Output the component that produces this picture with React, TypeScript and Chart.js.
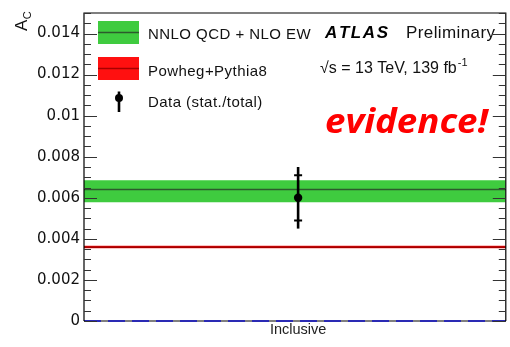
import React, { useEffect, useRef } from 'react';
import { Chart, registerables } from 'chart.js';

Chart.register(...registerables);

// ---- data ----
const categories = ['Inclusive'];
const categoryPos = [0.5];
const nnloCentral = [0.0064];
const nnloUpper = [0.00685];
const nnloLower = [0.00578];
const powhegCentral = [0.0036];
const powhegUpper = [0.00366];
const powhegLower = [0.00354];
const dataValue = [0.006];
const dataStatErr = [0.0011];
const dataTotalErr = [0.0015];
const zeroLine = [0];
const yTickValues = [0, 0.002, 0.004, 0.006, 0.008, 0.01, 0.012, 0.014];
const yTickLabels = ['0', '0.002', '0.004', '0.006', '0.008', '0.01', '0.012', '0.014'];
const yMinorStep = 0.0005;
const legendLabels = ['NNLO QCD + NLO EW', 'Powheg+Pythia8', 'Data (stat./total)'];

const X_MIN = 0;
const X_MAX = 0.985;
const Y_MIN = 0;
const Y_MAX = 0.015;

const GREEN = '#3fcb3f';
const GREEN_LINE = '#2c5a2c';
const RED = '#ff1010';
const RED_LINE = '#a80000';
const BLUE = '#2a2ab4';
const SANS = '"Liberation Sans", Arial, sans-serif';

const span = (v: number) => [
  { x: X_MIN, y: v },
  { x: X_MAX, y: v },
];

function spacedText(ctx: CanvasRenderingContext2D, text: string, x: number, y: number, spacing: number) {
  let cx = x;
  for (const ch of text) {
    ctx.fillText(ch, cx, y);
    cx += ctx.measureText(ch).width + spacing;
  }
  return cx;
}

const decorPlugin = {
  id: 'decor',
  beforeDatasetsDraw(chart: any) {
    const { ctx, chartArea } = chart;
    ctx.save();
    ctx.strokeStyle = '#000';
    ctx.lineWidth = 1.2;
    ctx.beginPath();
    ctx.moveTo(chartArea.left, chartArea.bottom);
    ctx.lineTo(chartArea.right, chartArea.bottom);
    ctx.stroke();
    ctx.restore();
  },
  afterDatasetsDraw(chart: any) {
    const { ctx, chartArea, scales } = chart;
    const { left, right, top, bottom } = chartArea;
    const ys = scales.y;
    const xs = scales.x;
    ctx.save();
    // frame
    ctx.strokeStyle = '#000';
    ctx.lineWidth = 1.2;
    ctx.beginPath();
    ctx.moveTo(left, bottom);
    ctx.lineTo(left, top);
    ctx.lineTo(right, top);
    ctx.lineTo(right, bottom);
    ctx.stroke();
    // ticks (inward, both sides)
    ctx.strokeStyle = '#333';
    ctx.lineWidth = 1.2;
    const nMinor = Math.round((Y_MAX - Y_MIN) / yMinorStep);
    for (let i = 0; i <= nMinor; i++) {
      const v = Y_MIN + i * yMinorStep;
      const isMajor = yTickValues.some((t) => Math.abs(t - v) < 1e-9);
      const len = isMajor ? 13 : 7;
      const py = Math.round(ys.getPixelForValue(v)) + 0.5;
      ctx.beginPath();
      ctx.moveTo(left, py);
      ctx.lineTo(left + len, py);
      ctx.moveTo(right, py);
      ctx.lineTo(right - len, py);
      ctx.stroke();
    }
    // error bars
    ctx.strokeStyle = '#000';
    for (let i = 0; i < categories.length; i++) {
      const px = xs.getPixelForValue(categoryPos[i]);
      const yTop = ys.getPixelForValue(dataValue[i] + dataTotalErr[i]);
      const yBot = ys.getPixelForValue(dataValue[i] - dataTotalErr[i]);
      const sTop = ys.getPixelForValue(dataValue[i] + dataStatErr[i]);
      const sBot = ys.getPixelForValue(dataValue[i] - dataStatErr[i]);
      ctx.lineWidth = 2.6;
      ctx.beginPath();
      ctx.moveTo(px, yTop);
      ctx.lineTo(px, yBot);
      ctx.stroke();
      ctx.lineWidth = 2;
      ctx.beginPath();
      ctx.moveTo(px - 4, sTop);
      ctx.lineTo(px + 4, sTop);
      ctx.moveTo(px - 4, sBot);
      ctx.lineTo(px + 4, sBot);
      ctx.stroke();
    }
    ctx.restore();
  },
  afterDraw(chart: any) {
    const { ctx } = chart;
    ctx.save();
    // y axis title A_C
    ctx.fillStyle = '#111';
    ctx.save();
    ctx.translate(27, 31);
    ctx.rotate(-Math.PI / 2);
    ctx.font = `17px ${SANS}`;
    ctx.textBaseline = 'alphabetic';
    ctx.fillText('A', 0, 0);
    const aw = ctx.measureText('A').width;
    ctx.font = `11px ${SANS}`;
    ctx.fillText('C', aw + 0.5, 4);
    ctx.restore();

    // legend swatches
    const boxX = 98;
    const boxW = 41;
    const boxH = 23;
    ctx.fillStyle = GREEN;
    ctx.fillRect(boxX, 21, boxW, boxH);
    ctx.strokeStyle = GREEN_LINE;
    ctx.lineWidth = 1.5;
    ctx.beginPath();
    ctx.moveTo(boxX, 32.5);
    ctx.lineTo(boxX + boxW, 32.5);
    ctx.stroke();
    ctx.fillStyle = RED;
    ctx.fillRect(boxX, 57, boxW, boxH);
    ctx.strokeStyle = RED_LINE;
    ctx.beginPath();
    ctx.moveTo(boxX, 68.5);
    ctx.lineTo(boxX + boxW, 68.5);
    ctx.stroke();
    ctx.strokeStyle = '#000';
    ctx.lineWidth = 2.6;
    ctx.beginPath();
    ctx.moveTo(119, 91.5);
    ctx.lineTo(119, 112);
    ctx.stroke();
    ctx.fillStyle = '#000';
    ctx.beginPath();
    ctx.arc(119, 98, 4, 0, Math.PI * 2);
    ctx.fill();

    // legend texts
    ctx.fillStyle = '#111';
    ctx.font = `15px ${SANS}`;
    ctx.textBaseline = 'alphabetic';
    spacedText(ctx, legendLabels[0], 148, 38.7, 0.45);
    spacedText(ctx, legendLabels[1], 148, 75.7, 0.45);
    spacedText(ctx, legendLabels[2], 148, 106.5, 0.45);

    // ATLAS Preliminary
    ctx.fillStyle = '#000';
    ctx.font = `italic bold 17px ${SANS}`;
    spacedText(ctx, 'ATLAS', 325, 37.6, 1.6);
    ctx.fillStyle = '#111';
    ctx.font = `17px ${SANS}`;
    spacedText(ctx, 'Preliminary', 406, 37.8, 0.4);

    // sqrt(s) line
    ctx.font = `16px ${SANS}`;
    ctx.fillText('\u221A', 320, 73.4);
    const sx = 320 + ctx.measureText('\u221A').width;
    const mainTxt = 's = 13 TeV, 139 fb';
    ctx.fillText(mainTxt, sx, 73.4);
    const mw = ctx.measureText(mainTxt).width;
    ctx.font = `11px ${SANS}`;
    ctx.fillText('-1', sx + mw + 1, 66);

    // evidence!
    ctx.fillStyle = '#ff0000';
    ctx.font = `italic 700 34px "Open Sans", "Noto Sans", sans-serif`;
    const ew = ctx.measureText('evidence!').width;
    ctx.save();
    ctx.translate(325, 133.3);
    ctx.scale(163 / ew, 1);
    ctx.fillText('evidence!', 0, 0);
    ctx.restore();
    ctx.restore();
  },
};

export default function App() {
  const canvasRef = useRef<HTMLCanvasElement | null>(null);

  useEffect(() => {
    document.body.style.margin = '0';
    const canvas = canvasRef.current;
    if (!canvas) return;
    const chart = new Chart(canvas, {
      type: 'line',
      data: {
        datasets: [
          {
            label: legendLabels[2],
            data: categoryPos.map((x, i) => ({ x, y: dataValue[i] })),
            showLine: false,
            pointRadius: 4.2,
            pointBackgroundColor: '#000',
            pointBorderColor: '#000',
            pointBorderWidth: 0,
          },
          {
            label: 'zero',
            data: span(zeroLine[0]),
            borderColor: BLUE,
            borderWidth: 2,
            borderDash: [17, 7],
            pointRadius: 0,
            fill: false,
            clip: false,
          },
          {
            label: legendLabels[0],
            data: span(nnloCentral[0]),
            borderColor: GREEN_LINE,
            borderWidth: 1.5,
            pointRadius: 0,
            fill: false,
          },
          {
            label: legendLabels[1],
            data: span(powhegCentral[0]),
            borderColor: RED_LINE,
            borderWidth: 1.8,
            pointRadius: 0,
            fill: false,
          },
          {
            label: 'nnloUp',
            data: span(nnloUpper[0]),
            borderWidth: 0,
            borderColor: 'rgba(0,0,0,0)',
            backgroundColor: GREEN,
            pointRadius: 0,
            fill: '+1',
          },
          {
            label: 'nnloLo',
            data: span(nnloLower[0]),
            borderWidth: 0,
            borderColor: 'rgba(0,0,0,0)',
            pointRadius: 0,
            fill: false,
          },
          {
            label: 'powUp',
            data: span(powhegUpper[0]),
            borderWidth: 0,
            borderColor: 'rgba(0,0,0,0)',
            backgroundColor: RED,
            pointRadius: 0,
            fill: '+1',
          },
          {
            label: 'powLo',
            data: span(powhegLower[0]),
            borderWidth: 0,
            borderColor: 'rgba(0,0,0,0)',
            pointRadius: 0,
            fill: false,
          },
        ],
      },
      options: {
        animation: false,
        responsive: true,
        maintainAspectRatio: false,
        layout: { padding: { left: 0, right: 3, top: 11, bottom: 0 } },
        plugins: {
          legend: { display: false },
          tooltip: { enabled: false },
          title: { display: false },
        },
        scales: {
          x: {
            type: 'linear',
            min: X_MIN,
            max: X_MAX,
            grid: { display: false, drawTicks: false },
            border: { display: false },
            afterBuildTicks: (scale: any) => {
              scale.ticks = categoryPos.map((v) => ({ value: v }));
            },
            afterFit: (scale: any) => {
              scale.height = 26;
            },
            ticks: {
              autoSkip: false,
              maxRotation: 0,
              padding: 0,
              color: '#222',
              font: { family: SANS, size: 14.5 },
              callback: (_v: any, i: number) => categories[i],
            },
          },
          y: {
            type: 'linear',
            min: Y_MIN,
            max: Y_MAX,
            grid: { display: false, drawTicks: false },
            border: { display: false },
            afterBuildTicks: (scale: any) => {
              scale.ticks = yTickValues.map((v) => ({ value: v }));
            },
            afterFit: (scale: any) => {
              scale.width = 84;
            },
            ticks: {
              autoSkip: false,
              padding: 4,
              color: '#111',
              font: { family: '"DejaVu Sans", sans-serif', size: 15 },
              callback: (_v: any, i: number) => yTickLabels[i],
            },
          },
        },
      },
      plugins: [decorPlugin],
    } as any);
    return () => chart.destroy();
  }, []);

  return (
    <div style={{ width: 510, height: 347, position: 'relative' }}>
      <canvas ref={canvasRef} />
    </div>
  );
}
